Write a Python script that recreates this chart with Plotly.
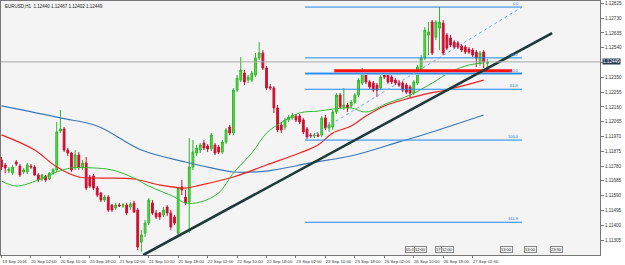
import plotly.graph_objects as go

chart_title = "EURUSD,H1  1.12440 1.12467 1.12402 1.12449"
current_price = 1.12449
current_price_label = "1.12449"

bar_index = list(range(133))
opens = [1.11819,1.11787,1.11748,1.11735,1.11806,1.11780,1.11742,1.11742,1.11780,1.11774,
         1.11723,1.11697,1.11716,1.11697,1.11735,1.11755,1.12005,1.12018,1.11883,1.11864,
         1.11768,1.11851,1.11768,1.11800,1.11710,1.11716,1.11639,1.11607,1.11562,1.11581,
         1.11530,1.11511,1.11530,1.11524,1.11530,1.11517,1.11543,1.11498,1.11292,1.11350,
         1.11414,1.11543,1.11479,1.11479,1.11466,1.11517,1.11479,1.11453,1.11350,1.11646,
         1.11581,1.11549,1.11774,1.11864,1.11883,1.11928,1.11909,1.11889,1.11915,1.11902,
         1.11870,1.11934,1.12031,1.11992,1.12268,1.12332,1.12377,1.12332,1.12332,1.12365,
         1.12474,1.12506,1.12410,1.12288,1.12281,1.12153,1.12044,1.12031,1.12076,1.12089,
         1.12101,1.12101,1.12076,1.12018,1.11979,1.11973,1.11979,1.11979,1.12089,1.12024,
         1.12031,1.12127,1.12236,1.12159,1.12172,1.12166,1.12191,1.12236,1.12313,1.12377,
         1.12320,1.12313,1.12300,1.12281,1.12377,1.12377,1.12352,1.12332,1.12320,1.12313,
         1.12300,1.12288,1.12249,1.12313,1.12397,1.12474,1.12621,1.12705,1.12608,1.12666,
         1.12698,1.12621,1.12602,1.12576,1.12570,1.12551,1.12544,1.12531,1.12525,1.12512,
         1.12442,1.12512,1.12440]
highs = [1.11838,1.11800,1.11774,1.11787,1.11819,1.11793,1.11768,1.11800,1.11793,1.11787,
         1.11735,1.11729,1.11723,1.11742,1.11768,1.12063,1.12140,1.12031,1.11896,1.11870,
         1.11883,1.11870,1.11819,1.11838,1.11723,1.11729,1.11652,1.11613,1.11594,1.11594,
         1.11536,1.11543,1.11543,1.11543,1.11543,1.11549,1.11556,1.11511,1.11370,1.11434,
         1.11575,1.11562,1.11498,1.11485,1.11517,1.11530,1.11498,1.11466,1.11646,1.11691,
         1.11626,1.11960,1.11947,1.11915,1.11928,1.11947,1.11921,1.11992,1.11928,1.11915,
         1.11947,1.12024,1.12044,1.12281,1.12365,1.12480,1.12397,1.12365,1.12390,1.12506,
         1.12576,1.12525,1.12422,1.12307,1.12294,1.12172,1.12063,1.12089,1.12108,1.12121,
         1.12114,1.12114,1.12089,1.12031,1.11992,1.11992,1.11992,1.12101,1.12108,1.12063,
         1.12140,1.12249,1.12249,1.12281,1.12185,1.12204,1.12249,1.12345,1.12410,1.12390,
         1.12332,1.12326,1.12313,1.12365,1.12397,1.12390,1.12365,1.12345,1.12332,1.12326,
         1.12313,1.12300,1.12332,1.12429,1.12493,1.12673,1.12705,1.12718,1.12718,1.12801,
         1.12718,1.12634,1.12621,1.12589,1.12583,1.12563,1.12557,1.12544,1.12538,1.12525,
         1.12519,1.12525,1.12467]
lows = [1.11755,1.11735,1.11735,1.11723,1.11780,1.11710,1.11729,1.11729,1.11761,1.11716,
        1.11678,1.11684,1.11678,1.11691,1.11723,1.11742,1.11992,1.11870,1.11845,1.11742,
        1.11755,1.11755,1.11755,1.11626,1.11639,1.11626,1.11581,1.11549,1.11549,1.11485,
        1.11485,1.11498,1.11517,1.11511,1.11466,1.11498,1.11479,1.11241,1.11228,1.11324,
        1.11401,1.11466,1.11440,1.11434,1.11453,1.11459,1.11370,1.11401,1.11337,1.11594,
        1.11530,1.11350,1.11755,1.11845,1.11864,1.11883,1.11870,1.11877,1.11851,1.11857,
        1.11857,1.11921,1.11979,1.11979,1.12255,1.12320,1.12300,1.12313,1.12320,1.12352,
        1.12461,1.12397,1.12268,1.12268,1.12121,1.11999,1.11992,1.12012,1.12063,1.12076,
        1.12063,1.12050,1.11986,1.11954,1.11960,1.11960,1.11967,1.11967,1.12012,1.11999,
        1.12012,1.12114,1.12146,1.12140,1.12127,1.12153,1.12178,1.12223,1.12300,1.12307,
        1.12275,1.12255,1.12223,1.12268,1.12339,1.12307,1.12307,1.12300,1.12288,1.12255,
        1.12243,1.12217,1.12236,1.12300,1.12384,1.12461,1.12493,1.12493,1.12589,1.12525,
        1.12493,1.12525,1.12544,1.12531,1.12531,1.12512,1.12499,1.12499,1.12480,1.12416,
        1.12422,1.12410,1.12402]
closes = [1.11774,1.11768,1.11761,1.11774,1.11793,1.11723,1.11755,1.11787,1.11774,1.11723,
          1.11691,1.11723,1.11691,1.11735,1.11755,1.11999,1.12018,1.11883,1.11864,1.11755,
          1.11851,1.11774,1.11800,1.11639,1.11652,1.11639,1.11594,1.11562,1.11581,1.11498,
          1.11498,1.11530,1.11524,1.11530,1.11479,1.11536,1.11485,1.11260,1.11337,1.11414,
          1.11562,1.11479,1.11453,1.11453,1.11498,1.11479,1.11389,1.11414,1.11639,1.11626,
          1.11543,1.11774,1.11870,1.11896,1.11915,1.11896,1.11889,1.11979,1.11864,1.11870,
          1.11934,1.12012,1.11992,1.12268,1.12345,1.12397,1.12320,1.12352,1.12377,1.12474,
          1.12506,1.12410,1.12281,1.12281,1.12153,1.12012,1.12012,1.12076,1.12095,1.12108,
          1.12076,1.12063,1.11999,1.11967,1.11973,1.11979,1.11973,1.12089,1.12024,1.12044,
          1.12127,1.12236,1.12159,1.12172,1.12153,1.12191,1.12236,1.12332,1.12377,1.12320,
          1.12288,1.12268,1.12268,1.12352,1.12352,1.12320,1.12320,1.12313,1.12300,1.12268,
          1.12255,1.12249,1.12320,1.12416,1.12474,1.12653,1.12641,1.12506,1.12705,1.12705,
          1.12506,1.12538,1.12557,1.12544,1.12544,1.12525,1.12512,1.12512,1.12493,1.12474,
          1.12506,1.12448,1.12449]

time_tick_bars = [0, 8, 16, 24, 32, 40, 48, 56, 64, 72, 80, 88, 96, 104, 112, 120, 128]
time_tick_labels = ["19 Sep 2016", "20 Sep 02:00", "20 Sep 10:00", "20 Sep 18:00",
                    "21 Sep 02:00", "21 Sep 10:00", "21 Sep 18:00", "22 Sep 02:00",
                    "22 Sep 10:00", "22 Sep 18:00", "23 Sep 02:00", "23 Sep 10:00",
                    "23 Sep 18:00", "26 Sep 02:00", "26 Sep 10:00", "26 Sep 18:00",
                    "27 Sep 02:00"]
price_ticks = [1.11305, 1.11400, 1.11495, 1.11590, 1.11685, 1.11780, 1.11875, 1.11970,
               1.12065, 1.12160, 1.12255, 1.12350, 1.12445, 1.12540, 1.12635, 1.12730, 1.12825]
price_tick_labels = ["1.11305", "1.11400", "1.11495", "1.11590", "1.11685", "1.11780",
                     "1.11875", "1.11970", "1.12065", "1.12160", "1.12255", "1.12350",
                     "", "1.12540", "1.12635", "1.12730", "1.12825"]

ma_slow_bars = [0, 16, 26, 38, 50, 57, 63, 72, 84, 96, 108, 117, 131]
ma_slow_vals = [1.12166, 1.12089, 1.12037, 1.11883, 1.11806, 1.11768, 1.11742, 1.11748,
                1.11800, 1.11851, 1.11935, 1.11999, 1.12108]
ma_mid_bars = [0, 9, 15, 21, 27, 36, 43, 50, 54, 63, 72, 81, 86, 90, 95, 99, 104, 108, 114, 122, 131]
ma_mid_vals = [1.11980, 1.11883, 1.11774, 1.11710, 1.11703, 1.11697, 1.11658, 1.11639,
               1.11658, 1.11710, 1.11787, 1.11864, 1.11915, 1.11992, 1.12037, 1.12101,
               1.12166, 1.12198, 1.12236, 1.12275, 1.12332]
ma_fast_bars = [0, 4, 10, 15, 19, 25, 30, 36, 40, 47, 50, 54, 59, 63, 68, 72, 75, 81,
                86, 90, 95, 99, 105, 111, 117, 122, 127, 131]
ma_fast_vals = [1.11684, 1.11652, 1.11691, 1.11742, 1.11768, 1.11768, 1.11755, 1.11703,
                1.11652, 1.11581, 1.11543, 1.11549, 1.11607, 1.11736, 1.11864, 1.11992,
                1.12044, 1.12121, 1.12133, 1.12146, 1.12153, 1.12127, 1.12185, 1.12236,
                1.12313, 1.12384, 1.12429, 1.12442]

trend_bars = [38.5, 149.6]
trend_vals = [1.11209, 1.12634]

fib_bars = [82.5, 141.4]
fib_high = 1.12801
fib_low = 1.11947
fib_levels = [0.0, 38.2, 50.0, 61.8, 100.0, 161.8]
fib_labels = ["0.0", "38.2", "50.0", "61.8", "100.0", "161.8"]

resistance_bars = [90.4, 138.7]
resistance_val = 1.12392
zone_val = 1.12374

object_time_bars = [111.3, 113.8, 118.6, 121.2, 137.1, 143.6, 150.7]
object_time_labels = ["05:11", "12:00", "17", "12:00", "13:00", "13:00", "23:30"]

FONT = "Liberation Sans"
fig = go.Figure()

fig.add_trace(go.Scatter(x=ma_slow_bars, y=ma_slow_vals, mode="lines", line_shape="spline",
                         line=dict(color="#3a78b8", width=1.2), hoverinfo="skip"))
fig.add_trace(go.Scatter(x=ma_mid_bars, y=ma_mid_vals, mode="lines", line_shape="spline",
                         line=dict(color="#ee2222", width=1.2), hoverinfo="skip"))
fig.add_trace(go.Scatter(x=ma_fast_bars, y=ma_fast_vals, mode="lines", line_shape="spline",
                         line=dict(color="#33bb33", width=1.0), hoverinfo="skip"))

fib_range = fib_high - fib_low
for lvl, lab in zip(fib_levels, fib_labels):
    pv = fib_high - fib_range * lvl / 100.0
    fig.add_trace(go.Scatter(x=fib_bars, y=[pv, pv], mode="lines",
                             line=dict(color="#1e88f0", width=1), hoverinfo="skip"))
    fig.add_annotation(x=fib_bars[1], y=pv, text=lab, showarrow=False, xanchor="right",
                       yanchor="bottom", yshift=-1, xshift=-1,
                       font=dict(family=FONT, size=4, color="#1e70d0"))
fig.add_trace(go.Scatter(x=fib_bars, y=[zone_val, zone_val], mode="lines",
                         line=dict(color="#9cc8f2", width=3), hoverinfo="skip"))
fig.add_trace(go.Scatter(x=fib_bars, y=[zone_val, zone_val], mode="lines",
                         line=dict(color="#1e88f0", width=1), hoverinfo="skip"))
fig.add_trace(go.Scatter(x=fib_bars, y=[fib_low, fib_high], mode="lines",
                         line=dict(color="#6aaef0", width=1, dash="dot"), hoverinfo="skip"))

fig.add_trace(go.Scatter(x=resistance_bars, y=[resistance_val, resistance_val], mode="lines",
                         line=dict(color="#ff1010", width=3), hoverinfo="skip"))

fig.add_hline(y=current_price, line=dict(color="#a8a8a8", width=1))

fig.add_trace(go.Candlestick(
    x=bar_index, open=opens, high=highs, low=lows, close=closes,
    increasing=dict(line=dict(color="#2fb52f", width=1), fillcolor="#66dd44"),
    decreasing=dict(line=dict(color="#cc1133", width=1), fillcolor="#cc1133"),
    whiskerwidth=0, hoverinfo="skip"))

fig.add_trace(go.Scatter(x=trend_bars, y=trend_vals, mode="lines",
                         line=dict(color="#1c3a36", width=2.6), hoverinfo="skip"))

for xb, lab in zip(object_time_bars, object_time_labels):
    fig.add_annotation(x=xb, y=0.0, yref="paper", yanchor="bottom", yshift=2, text=lab,
                       showarrow=False, bgcolor="#f4f4f4", bordercolor="#888888",
                       borderwidth=1, borderpad=0, font=dict(family=FONT, size=4, color="#222"))

fig.add_annotation(x=0, y=1, xref="paper", yref="paper", xanchor="left", yanchor="top",
                   xshift=2, yshift=-1, text=chart_title, showarrow=False,
                   font=dict(family=FONT, size=4.5, color="#222"))
fig.add_annotation(x=1, y=current_price, xref="paper", xanchor="left", xshift=2,
                   text=current_price_label, showarrow=False, bgcolor="#2a3c52",
                   borderpad=0, font=dict(family=FONT, size=4.6, color="#ffffff"))

fig.update_layout(
    width=625, height=265, margin=dict(l=1, r=25, t=1, b=10),
    paper_bgcolor="#ffffff", plot_bgcolor="#f4f4f4", showlegend=False,
    xaxis=dict(range=[-0.14, 162.6], tickvals=time_tick_bars, ticktext=time_tick_labels,
               ticks="outside", ticklen=2, tickcolor="#777", showline=True, linecolor="#777",
               mirror=True, showgrid=False, zeroline=False, rangeslider=dict(visible=False),
               tickfont=dict(family=FONT, size=4.3, color="#333"), ticklabelshift=13,
               tickangle=0),
    yaxis=dict(range=[1.11209, 1.12840], side="right", tickvals=price_ticks,
               ticktext=price_tick_labels, ticks="outside", ticklen=3, tickcolor="#777",
               showline=True, linecolor="#777", mirror=True, showgrid=False, zeroline=False,
               tickfont=dict(family=FONT, size=4.6, color="#333")),
)

fig.write_html("out.html")
